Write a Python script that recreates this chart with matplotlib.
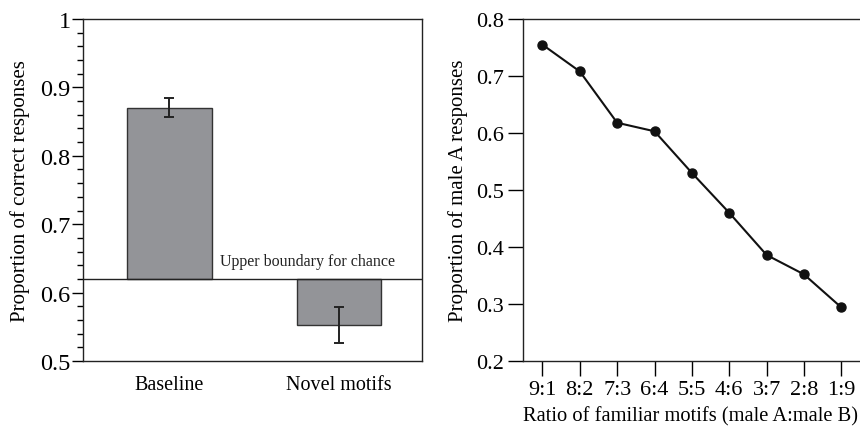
import matplotlib.pyplot as plt
from matplotlib.ticker import MultipleLocator

plt.rcParams['font.family'] = ['Liberation Serif', 'DejaVu Serif']

# left panel data
conditions = ['Baseline', 'Novel motifs']
correct = [0.87, 0.553]
correct_err = [0.014, 0.026]
chance = 0.62

# right panel data
ratios = ['9:1', '8:2', '7:3', '6:4', '5:5', '4:6', '3:7', '2:8', '1:9']
male_a = [0.755, 0.708, 0.618, 0.603, 0.530, 0.460, 0.386, 0.352, 0.294]

fig = plt.figure(figsize=(8.6, 4.27), dpi=100)
W, H = 860, 427

# ---- left: bars hanging from the chance line
ax1 = fig.add_axes([83 / W, 65 / H, 339 / W, 342 / H])
xs = range(len(conditions))
heights = [v - chance for v in correct]
ax1.bar(xs, heights, bottom=chance, width=0.5, color='#939498',
        edgecolor='#333333', linewidth=1.0, zorder=2)
ax1.errorbar(xs, correct, yerr=correct_err, fmt='none', ecolor='#222222',
             elinewidth=1.4, capsize=3.6, capthick=1.4, zorder=3)
ax1.axhline(chance, color='#222222', lw=1.0, zorder=4)
ax1.text(0.30, chance + 0.014, 'Upper boundary for chance', fontsize=11.5,
         color='#222222', va='bottom', ha='left')
ax1.set_xlim(-0.51, 1.49)
ax1.set_ylim(0.5, 1.0)
ax1.set_xticks(list(xs))
ax1.set_xticklabels(conditions, fontsize=14.5)
ax1.tick_params(axis='x', length=0, pad=10)
ax1.yaxis.set_minor_locator(MultipleLocator(0.02))
ax1.set_yticks([0.5, 0.6, 0.7, 0.8, 0.9, 1.0])
ax1.set_yticklabels(['0.5', '0.6', '0.7', '0.8', '0.9', '1'], fontsize=17.5)
ax1.tick_params(axis='y', which='major', length=8, width=1.0, direction='out', pad=1)
ax1.tick_params(axis='y', which='minor', length=4, width=1.0, direction='out')
ax1.set_ylabel('Proportion of correct responses', fontsize=15, labelpad=7)
for s in ax1.spines.values():
    s.set_linewidth(1.0)
    s.set_color('#222222')

# ---- right: line plot
ax2 = fig.add_axes([523 / W, 65 / H, 337 / W, 342 / H])
ax2.plot(range(len(ratios)), male_a, color='#111111', lw=1.5, marker='o',
         markersize=6.5, clip_on=False)
ax2.set_xlim(-0.52, 8.5)
ax2.set_ylim(0.2, 0.8)
ax2.set_xticks(range(len(ratios)))
ax2.set_xticklabels(ratios, fontsize=16)
ax2.set_yticks([0.2, 0.3, 0.4, 0.5, 0.6, 0.7, 0.8])
ax2.set_yticklabels(['0.2', '0.3', '0.4', '0.5', '0.6', '0.7', '0.8'], fontsize=16)
ax2.tick_params(axis='both', length=10.5, width=1.0, direction='out', pad=3)
ax2.set_xlabel('Ratio of familiar motifs (male A:male B)', fontsize=14.8)
ax2.xaxis.set_label_coords(0.995, -0.132)
ax2.xaxis.label.set_horizontalalignment('right')
ax2.set_ylabel('Proportion of male A responses', fontsize=15, labelpad=6)
ax2.spines['right'].set_visible(False)
for s in ax2.spines.values():
    s.set_linewidth(1.0)
    s.set_color('#222222')

fig.savefig('out.png', dpi=100)
